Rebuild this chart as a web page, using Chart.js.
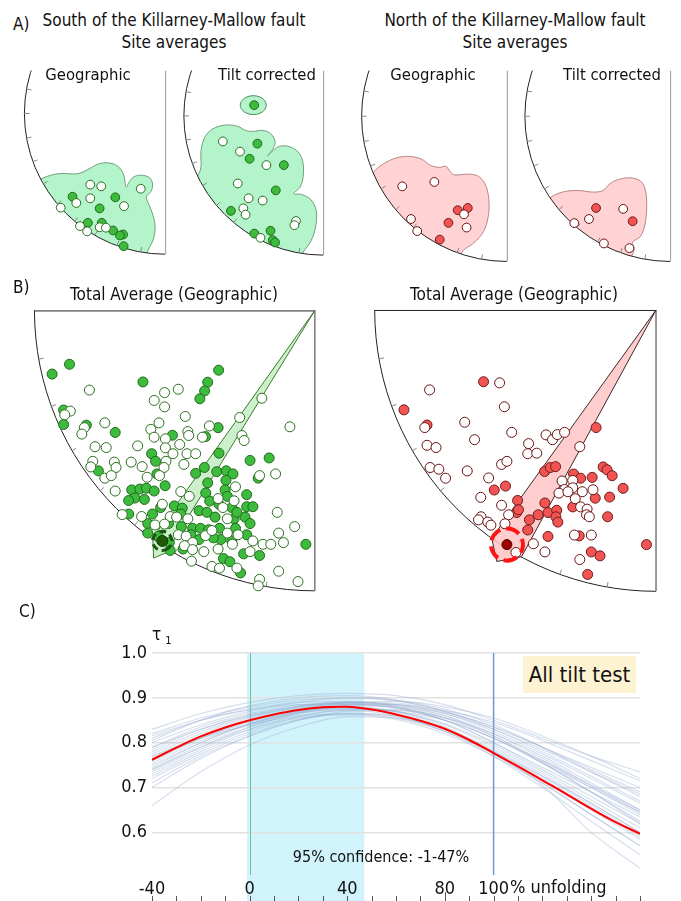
<!DOCTYPE html>
<html>
<head>
<meta charset="utf-8">
<script src="https://cdn.jsdelivr.net/npm/chart.js@4.4.1/dist/chart.umd.min.js"></script>
<style>
  body { margin: 0; background: #fff; }
  #page { position: relative; width: 681px; height: 901px; overflow: hidden; background: #fff;
          font-family: 'DejaVu Sans Condensed', 'DejaVu Sans', sans-serif; color: #111; }
  canvas { position: absolute; }
  .t { position: absolute; line-height: 1; white-space: nowrap; z-index: 5; }
  .c { transform: translateX(-50%); }
</style>
</head>
<body>
<div id="page">
  <div class="t" style="left:13px;top:16px;font-size:17px">A)</div>
  <div class="t c" style="left:174px;top:12px;font-size:17px">South of the Killarney-Mallow fault</div>
  <div class="t c" style="left:174px;top:34px;font-size:17px">Site averages</div>
  <div class="t c" style="left:515px;top:12px;font-size:17px">North of the Killarney-Mallow fault</div>
  <div class="t c" style="left:515px;top:34px;font-size:17px">Site averages</div>
  <div class="t c" style="left:88px;top:67px;font-size:16.5px">Geographic</div>
  <div class="t c" style="left:267px;top:67px;font-size:16.5px">Tilt corrected</div>
  <div class="t c" style="left:433px;top:67px;font-size:16.5px">Geographic</div>
  <div class="t c" style="left:612px;top:67px;font-size:16.5px">Tilt corrected</div>

  <div class="t" style="left:13px;top:279px;font-size:17px">B)</div>
  <div class="t c" style="left:174px;top:286px;font-size:17px">Total Average (Geographic)</div>
  <div class="t c" style="left:514px;top:286px;font-size:17px">Total Average (Geographic)</div>

  <div class="t" style="left:19px;top:603px;font-size:17px">C)</div>
  <div class="t" style="left:152px;top:626px;font-size:17px">τ<span style="font-size:11px;position:relative;top:4px;left:4px">1</span></div>
  <div class="t" style="left:523px;top:656px;width:113px;height:37px;background:#fdf3d3;font-size:22px;line-height:37px;text-align:center">All tilt test</div>
  <div class="t c" style="left:381px;top:849px;font-size:16px">95% confidence: -1-47%</div>
  <div class="t" style="left:510px;top:878px;font-size:18px">% unfolding</div>
</div>

<script>
// ---------- A) site averages (net radius = 100, origin at net centre) ----------
const southGeoFilled = [[-65.8,-58.4],[-35.4,-58.8],[-46.5,-66.6],[-54.9,-76.7],[-45,-76.7],[-37,-82.1],[-29.9,-84.9],[-32.1,-85.6],[-29.5,-93.1]];
const southGeoOpen = [[-53.2,-49.9],[-45.4,-51.1],[-17.3,-52.8],[-53.2,-59.5],[-63.1,-62.8],[-29.2,-65],[-74.2,-66.1],[-60.5,-79],[-55.4,-82.7],[-46.5,-79.8],[-42.1,-80.1]];
const southGeoRegion = [[-95.2,-50.6],[-86.4,-45.1],[-75.3,-42.2],[-62,-42.2],[-53.2,-38.4],[-46.5,-35.1],[-37.7,-35.1],[-32.1,-38.4],[-29.2,-44],[-27.7,-51.7],[-25.5,-48],[-22.1,-44.4],[-16.6,-43.3],[-11.1,-45.1],[-8.9,-49.5],[-10,-54.6],[-13.3,-58.4],[-11.5,-63.9],[-8.9,-70.5],[-7.1,-79.4],[-8.4,-88.3],[-12.2,-96],[-15.5,-103.7],[-95.2,-103.7],[-95.2,-50.6]];

const southTiltFilled = [[-49.5,7.6],[-47.2,-19.7],[-52.8,-30.4],[-28.2,-34.9],[-34,-52.8],[-66.2,-67.3],[-37.8,-81.4],[-49.4,-83.4],[-36.2,-88.1],[-34.5,-89.7]];
const southTiltOpen = [[-72,-18.1],[-59.7,-25.3],[-40.7,-34.9],[-61.3,-47.9],[-53.5,-58.4],[-43.4,-60],[-57.3,-65.5],[-55.7,-70],[-19.5,-74.5],[-20.6,-77.4],[-45,-86.4]];
const southTiltRegion = [[-94.9,-49.4],[-88.1,-38.3],[-87.7,-24.8],[-84.8,-14.8],[-79.2,-9.2],[-70.2,-6.5],[-61.3,-7.4],[-55.7,-10.3],[-50.1,-11],[-43.4,-10.3],[-37.8,-12.5],[-34.5,-18.1],[-36.2,-23.7],[-40,-28.2],[-32.2,-21.9],[-25.5,-21.5],[-18.8,-24.8],[-14.8,-31.5],[-14.3,-42.7],[-16.6,-50.6],[-21,-55],[-15.4,-55.7],[-8.7,-59.5],[-4.9,-67.3],[-5.4,-78.5],[-8.7,-88.6],[-14.3,-96.4],[-18.8,-103.1],[-94.9,-103.1],[-94.9,-49.4]];
const southTiltUpper = [[-40.7,7.6],[-42,10.9],[-45.4,13.4],[-50.1,14.3],[-54.8,13.4],[-58.2,10.9],[-59.5,7.6],[-58.2,4.3],[-54.8,1.8],[-50.1,0.9],[-45.4,1.8],[-42,4.3],[-40.7,7.6]];

const northGeoFilled = [[-33.8,-63.9],[-26.9,-62.4],[-40.2,-72.5],[-46.2,-83.9]];
const northGeoOpen = [[-72,-47.7],[-49.9,-44.7],[-29.5,-66.7],[-66,-69.9],[-61.7,-78.1],[-27.7,-75.7]];
const northGeoRegion = [[-97.8,-47.3],[-91.4,-37.6],[-84.9,-32.3],[-76.3,-28.4],[-67.7,-27.3],[-59.1,-29],[-52.7,-33.3],[-46.2,-34.8],[-41.9,-34],[-39.8,-36.6],[-36.6,-39.8],[-26.9,-39.4],[-19.4,-40.9],[-14.4,-47.3],[-12.3,-58.1],[-12.9,-68.8],[-16.1,-78.5],[-22.6,-86],[-30.1,-91.4],[-35.5,-100],[-97.8,-100],[-97.8,-47.3]];

const northTiltFilled = [[-51,-62.4],[-25.8,-71.4]];
const northTiltOpen = [[-32.3,-63],[-55.9,-69.9],[-66,-72.7],[-45.6,-86.5],[-28,-89.7]];
const northTiltRegion = [[-87.1,-60.2],[-82.8,-55.5],[-74.2,-51.6],[-63.4,-50.5],[-52.7,-51.6],[-46.2,-50.5],[-41.9,-46.2],[-35.5,-43],[-26.9,-41.9],[-20.4,-44.1],[-17.2,-49.5],[-16.1,-60.2],[-17.2,-73.1],[-20.4,-81.7],[-25.8,-85.6],[-24.7,-90.3],[-26.9,-95.7],[-31.2,-100],[-87.1,-100],[-87.1,-60.2]];

// ---------- B) all specimens ----------
const southAllFilled = [[-93.7,-22.7],[-87.5,-19.2],[-61.3,-25.5],[-34.3,-21.3],[-38.2,-25.6],[-39.3,-28.7],[-41,-31.5],[-89.6,-35.5],[-89.6,-40.7],[-81.5,-40.9],[-71.2,-43.5],[-50.8,-44.5],[-39,-45],[-34.5,-41.8],[-58.2,-51.1],[-56.8,-53.8],[-34.2,-50.9],[-23.1,-53.5],[-16.3,-52.6],[-77.2,-57.2],[-56.3,-58.3],[-42.5,-58.1],[-39.4,-56],[-35,-57.5],[-31.6,-57.2],[-29.2,-58.3],[-20.2,-59.8],[-65.3,-64],[-62.4,-63.7],[-60.1,-63.4],[-57.3,-64.4],[-53.4,-62.5],[-64.2,-66.9],[-60.8,-67.4],[-66.4,-67.8],[-38.2,-61.5],[-31.7,-60.6],[-38.9,-65.1],[-32,-64],[-31.2,-66.3],[-24.3,-65.7],[-37.5,-68],[-34.2,-69.1],[-29.6,-70.3],[-24.3,-70],[-22.1,-70],[-55,-70.3],[-50.1,-69.7],[-47.3,-70.5],[-57.9,-72.6],[-66.4,-72.6],[-41.3,-71.4],[-38.5,-72],[-35.6,-73.7],[-28.8,-74.3],[-24.9,-73.7],[-59.6,-76],[-52.2,-76],[-47.6,-77.1],[-43.6,-77.7],[-40.8,-77.7],[-37.9,-78.2],[-34,-77.7],[-28.3,-77.7],[-24.3,-80],[-44.2,-80],[-41.3,-81.7],[-33.5,-81.7],[-29.6,-82.2],[-59.6,-79.4],[-55.9,-80.5],[-51.9,-82.8],[-51.6,-85.6],[-47,-85.1],[-32.6,-88.5],[-30.3,-89.6],[-25.4,-86.8],[-19.7,-87.4],[-26.5,-93.6],[-3.2,-83.4],[-36.2,-81.1],[-27.8,-72],[-23.1,-76],[-47.8,-72.6]];
const southAllOpen = [[-80.4,-28.4],[-53.6,-29.3],[-48.7,-28.1],[-57.3,-32.1],[-53.6,-34.4],[-87.2,-35.9],[-89.2,-37.2],[-46.2,-37.8],[-26.8,-38.2],[-18.9,-31.3],[-8.9,-41.5],[-74.9,-40.1],[-82.2,-41.8],[-83.1,-44.1],[-55.6,-40.1],[-58.5,-42.4],[-57.3,-45.2],[-53.3,-45.8],[-45.3,-43.2],[-45,-44.6],[-37.6,-41.2],[-40.1,-45.2],[-26,-44.6],[-25.2,-46.4],[-78.4,-48.6],[-74.4,-48.9],[-63.2,-48.3],[-48.2,-47.8],[-53.3,-49],[-50.6,-51.1],[-45.6,-51.1],[-42.5,-51.1],[-79.2,-53.8],[-79.9,-55.8],[-71.5,-54.1],[-70.9,-56],[-65.5,-54.1],[-61.6,-55.7],[-53.1,-53.8],[-53.8,-56],[-46.7,-54.9],[-55.4,-58.9],[-59.8,-59.5],[-74.9,-59.8],[-72.6,-58.9],[-19.7,-58.9],[-14,-58.3],[-71.2,-64.4],[-47.8,-64.6],[-44.8,-66.3],[-28.3,-62.9],[-34.5,-67.1],[-28.8,-67.9],[-68.7,-72.8],[-61.8,-73.5],[-54.4,-69.1],[-51.6,-73.5],[-49.3,-73.7],[-45.3,-74.3],[-32.8,-70.3],[-31.2,-74.3],[-13.4,-72],[-57,-76.5],[-53.6,-76.2],[-48.7,-80],[-45.9,-80.5],[-43.6,-82.8],[-39,-80.3],[-36.7,-78.5],[-31.2,-79.4],[-27.4,-80],[-22.1,-82.2],[-18.5,-83.4],[-15.7,-83.4],[-11.2,-82.8],[-12.9,-79.4],[-7.2,-77.1],[-46.5,-83.9],[-43.6,-85.3],[-39.6,-86],[-34.5,-85.1],[-23.1,-86],[-44,-89.4],[-36.7,-91.3],[-34,-91.9],[-27.8,-91.9],[-19.7,-95.9],[-20.2,-98.2],[-12.9,-93],[-6,-96.7],[-29.4,-83.4]];
const southAllWedge = [[0,0],[-57.8,-81.1],[-57.5,-88.3],[-53,-86.4],[0,0]];
const southAllMean = [[-54.4,-82.2]];
const southAllA95 = 3.4;

const northAllFilled = [[-61.3,-25.5],[-89.6,-35.5],[-81.4,-40.9],[-21.3,-41.8],[-39.6,-57.4],[-37.6,-56],[-35.7,-55.7],[-29.3,-58.3],[-26.8,-59.8],[-22.7,-59.5],[-18.8,-55.8],[-17.4,-56.8],[-15.6,-58.9],[-11.7,-63.4],[-16.5,-66.5],[-21.6,-66.9],[-57.5,-64],[-53.5,-62.6],[-49.2,-67.7],[-49.5,-72],[-48.9,-71],[-45,-74.6],[-41.9,-72.8],[-39.5,-68.6],[-38.4,-72],[-35.3,-71.2],[-35.6,-73.5],[-34.9,-75.4],[-29.6,-70],[-17.2,-73.5],[-45.6,-78.2],[-38.4,-80.5],[-27.3,-80.3],[-23,-86],[-19.9,-87.4],[-24.3,-94],[-3.4,-83.4]];
const northAllOpen = [[-55.6,-25.9],[-80.5,-28.4],[-53.9,-34.4],[-68,-39.9],[-82.2,-41.8],[-51.3,-43.5],[-64.5,-46.1],[-81.4,-48.1],[-78.2,-48.9],[-39.1,-44.4],[-36.8,-46.1],[-35.1,-44.3],[-32.5,-43.5],[-45.3,-47.5],[-45.6,-51.1],[-42.4,-50.9],[-27.1,-48.6],[-80.3,-56],[-77.2,-56.6],[-74.8,-59.8],[-67.1,-57.2],[-54.9,-54.9],[-53,-53.8],[-59.5,-59.7],[-33.4,-60.8],[-29.6,-60.6],[-32.5,-63.8],[-29.6,-63.2],[-26.2,-64.6],[-22.4,-63.9],[-34.5,-65.1],[-31.3,-64.6],[-28.7,-67.1],[-26.8,-70],[-24.5,-70.8],[-24.7,-72.8],[-23.7,-73.5],[-62.3,-66.6],[-54.9,-69.4],[-52.4,-72.8],[-62.2,-73.5],[-63.1,-74.6],[-59.8,-75.4],[-58.7,-76.5],[-53.7,-76],[-29,-80],[-23,-80],[-43.6,-83.1],[-49.8,-86.2],[-39.5,-86],[-27.1,-88.7]];
const northAllWedge = [[0,0],[-58.4,-81.1],[-56.6,-89.4],[-47.8,-87.7],[0,0]];
const northAllMean = [[-53,-83.4]];
const northAllA95 = 5.7;

// ---------- C) tilt test ----------
const unfolding = [-40,-20,0,20,40,60,80,100,120,140,160];
const unfoldingFine = [-40,-30,-20,-10,0,10,20,30,40,50,60,70,80,90,100,110,120,130,140,150,160];
const tauMean = [0.762,0.789,0.814,0.834,0.850,0.863,0.873,0.879,0.880,0.874,0.863,0.849,0.831,0.806,0.777,0.747,0.716,0.685,0.653,0.623,0.597];
const tauBootstrap = [
  [0.83,0.865,0.89,0.905,0.91,0.905,0.885,0.85,0.81,0.77,0.735],
  [0.82,0.855,0.88,0.895,0.90,0.893,0.87,0.835,0.79,0.745,0.70],
  [0.80,0.84,0.87,0.89,0.90,0.895,0.875,0.84,0.79,0.735,0.68],
  [0.79,0.83,0.86,0.88,0.89,0.885,0.865,0.825,0.775,0.72,0.665],
  [0.78,0.825,0.858,0.88,0.888,0.88,0.855,0.81,0.755,0.70,0.645],
  [0.77,0.815,0.85,0.875,0.885,0.878,0.85,0.80,0.74,0.68,0.62],
  [0.76,0.81,0.848,0.872,0.88,0.87,0.84,0.79,0.73,0.665,0.60],
  [0.75,0.80,0.84,0.868,0.878,0.868,0.835,0.78,0.715,0.65,0.585],
  [0.74,0.795,0.835,0.865,0.876,0.865,0.83,0.775,0.71,0.64,0.57],
  [0.73,0.785,0.83,0.86,0.872,0.86,0.825,0.77,0.70,0.625,0.55],
  [0.72,0.775,0.82,0.852,0.866,0.858,0.826,0.775,0.71,0.64,0.57],
  [0.71,0.77,0.815,0.85,0.865,0.86,0.83,0.78,0.72,0.655,0.59],
  [0.66,0.735,0.795,0.835,0.858,0.855,0.83,0.785,0.725,0.66,0.595],
  [0.805,0.85,0.882,0.90,0.905,0.895,0.87,0.83,0.78,0.725,0.67],
  [0.81,0.85,0.875,0.89,0.892,0.88,0.85,0.80,0.745,0.69,0.635],
  [0.785,0.83,0.862,0.882,0.89,0.888,0.872,0.845,0.805,0.76,0.715],
  [0.775,0.82,0.855,0.878,0.89,0.892,0.88,0.855,0.815,0.77,0.72],
  [0.765,0.812,0.85,0.875,0.887,0.885,0.865,0.83,0.785,0.735,0.685],
  [0.745,0.80,0.842,0.87,0.885,0.885,0.868,0.835,0.79,0.74,0.69],
  [0.735,0.79,0.835,0.866,0.882,0.88,0.86,0.82,0.765,0.705,0.645],
  [0.70,0.765,0.815,0.85,0.87,0.872,0.855,0.82,0.77,0.71,0.65],
  [0.755,0.805,0.842,0.866,0.875,0.87,0.85,0.81,0.755,0.69,0.625],
  [0.725,0.78,0.825,0.857,0.873,0.874,0.856,0.815,0.755,0.69,0.62],
  [0.79,0.835,0.865,0.884,0.89,0.883,0.86,0.815,0.76,0.70,0.64],
  [0.815,0.85,0.873,0.885,0.886,0.876,0.85,0.81,0.76,0.705,0.65],
  [0.76,0.81,0.845,0.87,0.878,0.87,0.842,0.795,0.735,0.672,0.61],
  [0.74,0.79,0.83,0.855,0.862,0.852,0.82,0.77,0.705,0.60,0.52],
  [0.77,0.81,0.84,0.86,0.864,0.855,0.825,0.78,0.725,0.665,0.60]
];
const confidenceRange = [-1, 47];
const xTickValues = [-40, 0, 40, 80, 100];
const yTickValues = [0.6, 0.7, 0.8, 0.9, 1.0];

// ---------- helpers ----------
const FONT = "'DejaVu Sans Condensed', 'DejaVu Sans', sans-serif";
const toXY = arr => arr.map(p => ({ x: p[0], y: p[1] }));
const page = document.getElementById('page');

function netGeom(chart) {
  const xs = chart.scales.x, ys = chart.scales.y;
  const cx = xs.getPixelForValue(0), cy = ys.getPixelForValue(0);
  return { cx, cy, r: cx - xs.getPixelForValue(-100) };
}

function drawFrame(chart, o) {
  const ctx = chart.ctx, { cx, cy, r } = netGeom(chart), a = chart.chartArea;
  ctx.save();
  ctx.beginPath(); ctx.rect(a.left, a.top, a.right - a.left, a.bottom - a.top); ctx.clip();
  ctx.lineWidth = 1; ctx.strokeStyle = '#222';
  ctx.beginPath();
  if (o.kind === 'B') ctx.arc(cx, cy, r, Math.PI / 2, Math.PI);
  else ctx.arc(cx, cy, r, Math.PI / 2, Math.PI * 1.5);
  ctx.stroke();
  if (o.kind === 'B') {
    ctx.beginPath(); ctx.moveTo(cx - r, cy + 0.5); ctx.lineTo(cx, cy + 0.5); ctx.stroke();
    ctx.strokeStyle = '#7a7a7a'; ctx.lineWidth = 1.5;
    ctx.beginPath(); ctx.moveTo(cx, cy); ctx.lineTo(cx, cy + r); ctx.stroke();
  } else {
    ctx.strokeStyle = '#9a9a9a';
    ctx.beginPath(); ctx.moveTo(cx + 0.5, a.top); ctx.lineTo(cx + 0.5, cy + r); ctx.stroke();
  }
  ctx.strokeStyle = '#888'; ctx.lineWidth = 1;
  for (let d = (o.kind === 'B' ? 10 : -10); d <= 80; d += 10) {
    const t = d * Math.PI / 180, c = Math.cos(t), s = Math.sin(t);
    ctx.beginPath();
    ctx.moveTo(cx - r * c, cy + r * s);
    ctx.lineTo(cx - (r - 5) * c, cy + (r - 5) * s);
    ctx.stroke();
  }
  ctx.restore();
}

const netFrame = {
  id: 'netFrame',
  beforeDatasetsDraw(chart, args, o) {
    chart.$netClipped = false;
    if (o.clip) {
      const { cx, cy, r } = netGeom(chart);
      chart.ctx.save();
      chart.ctx.beginPath(); chart.ctx.arc(cx, cy, r, 0, Math.PI * 2); chart.ctx.clip();
      chart.$netClipped = true;
    } else drawFrame(chart, o);
  },
  beforeDatasetDraw(chart, args, o) {
    if (chart.$netClipped && !chart.data.datasets[args.index].region) {
      chart.ctx.restore(); chart.$netClipped = false; drawFrame(chart, o);
    }
  },
  afterDatasetsDraw(chart, args, o) {
    if (chart.$netClipped) { chart.ctx.restore(); chart.$netClipped = false; drawFrame(chart, o); }
    (o.rings || []).forEach(ring => {
      const ctx = chart.ctx, xs = chart.scales.x, ys = chart.scales.y;
      const px = xs.getPixelForValue(ring.at[0]), py = ys.getPixelForValue(ring.at[1]);
      const rr = xs.getPixelForValue(ring.at[0] + ring.radius) - px;
      ctx.save();
      ctx.strokeStyle = ring.color; ctx.lineWidth = ring.width; ctx.setLineDash(ring.dash);
      ctx.beginPath(); ctx.arc(px, py, rr, 0.9, 0.9 + Math.PI * 2); ctx.stroke();
      ctx.restore();
    });
  }
};

function regionSet(pts, fill, border) {
  return { data: toXY(pts), region: true, showLine: true, fill: 'shape', backgroundColor: fill,
           borderColor: border, borderWidth: 1, pointRadius: 0, tension: 0.35, order: 3, clip: false };
}
function pointSet(pts, fill, border, radius) {
  return { data: toXY(pts), showLine: false, pointRadius: radius, pointBorderWidth: 1,
           pointBackgroundColor: fill, pointBorderColor: border, backgroundColor: fill, borderColor: border,
           order: 1, clip: false };
}

function makeNet(p) {
  const m = 8;
  const left = Math.round(p.cx - p.r - m), top = Math.round(p.top);
  const w = Math.round(p.cx + m) - left, h = Math.round(p.cy + p.r + m) - top;
  const c = document.createElement('canvas');
  c.width = w; c.height = h;
  c.style.left = left + 'px'; c.style.top = top + 'px';
  c.style.width = w + 'px'; c.style.height = h + 'px';
  page.appendChild(c);
  const u = v => v / p.r * 100;
  new Chart(c, {
    type: 'scatter',
    data: { datasets: p.datasets },
    options: {
      responsive: false, animation: false, devicePixelRatio: 1,
      layout: { padding: 0 },
      plugins: { legend: { display: false }, tooltip: { enabled: false },
                 netFrame: { kind: p.kind, clip: p.clip, rings: p.rings || [] } },
      scales: {
        x: { type: 'linear', display: false, min: u(left - p.cx), max: u(left + w - p.cx) },
        y: { type: 'linear', display: false, min: u(p.cy - (top + h)), max: u(p.cy - top) }
      }
    },
    plugins: [netFrame]
  });
}

const MINT = '#b4f4ca', MINT_EDGE = '#6f9f7c';
const PINK = '#ffd3d3', PINK_EDGE = '#b98585';
const G_FILL = '#3dbb3d', G_EDGE = '#1f6a1a', G_OPEN_EDGE = '#2b6e1f';
const R_FILL = '#f25454', R_EDGE = '#6e1a1a', R_OPEN_EDGE = '#6a1212';

makeNet({ cx: 170, cy: 110.5, r: 150.5, top: 65, kind: 'A', clip: true, datasets: [
  regionSet(southGeoRegion, MINT, MINT_EDGE),
  pointSet(southGeoOpen, '#fff', G_OPEN_EDGE, 4.4),
  pointSet(southGeoFilled, G_FILL, G_EDGE, 4.4) ] });
makeNet({ cx: 328, cy: 113, r: 149, top: 65, kind: 'A', clip: true, datasets: [
  regionSet(southTiltRegion, MINT, MINT_EDGE),
  regionSet(southTiltUpper, MINT, '#4d8a5c'),
  pointSet(southTiltOpen, '#fff', G_OPEN_EDGE, 4.4),
  pointSet(southTiltFilled, G_FILL, G_EDGE, 4.4) ] });
makeNet({ cx: 511.7, cy: 113.3, r: 155, top: 65, kind: 'A', clip: true, datasets: [
  regionSet(northGeoRegion, PINK, PINK_EDGE),
  pointSet(northGeoOpen, '#fff', R_OPEN_EDGE, 4.4),
  pointSet(northGeoFilled, R_FILL, R_EDGE, 4.4) ] });
makeNet({ cx: 675, cy: 113.3, r: 155, top: 65, kind: 'A', clip: true, datasets: [
  regionSet(northTiltRegion, PINK, PINK_EDGE),
  pointSet(northTiltOpen, '#fff', R_OPEN_EDGE, 4.4),
  pointSet(northTiltFilled, R_FILL, R_EDGE, 4.4) ] });

const wedgeSet = (pts, fill, edge) => Object.assign(regionSet(pts, fill, edge), { region: false, tension: 0, order: 4 });
makeNet({ cx: 321, cy: 304.3, r: 292.7, top: 296, kind: 'B', clip: false,
  rings: [{ at: southAllMean[0], radius: southAllA95, color: '#1d5510', width: 3, dash: [7, 4] }],
  datasets: [
    wedgeSet(southAllWedge, 'rgba(185,235,185,0.75)', '#3d7a2d'),
    pointSet(southAllOpen, '#fff', G_OPEN_EDGE, 5),
    pointSet(southAllFilled, G_FILL, G_EDGE, 5),
    Object.assign(pointSet(southAllMean, '#1e5a08', '#143d05', 5.5), { order: 0 }) ] });
makeNet({ cx: 661.7, cy: 304.3, r: 292.7, top: 296, kind: 'B', clip: false,
  rings: [{ at: northAllMean[0], radius: northAllA95, color: '#ff1414', width: 4, dash: [14, 6] }],
  datasets: [
    wedgeSet(northAllWedge, 'rgba(255,196,196,0.85)', '#3a2a2a'),
    pointSet(northAllOpen, '#fff', R_OPEN_EDGE, 5),
    pointSet(northAllFilled, R_FILL, R_EDGE, 5),
    Object.assign(pointSet(northAllMean, '#a00000', '#4a0000', 5), { order: 0 }) ] });

// ---------- C chart ----------
const tiltDecor = {
  id: 'tiltDecor',
  beforeDraw(chart) {
    const ctx = chart.ctx, xs = chart.scales.x, a = chart.chartArea;
    const x0 = xs.getPixelForValue(confidenceRange[0]), x1 = xs.getPixelForValue(confidenceRange[1]);
    ctx.save();
    ctx.fillStyle = '#d1f3fb';
    ctx.fillRect(x0, a.top, x1 - x0, chart.height - a.top);
    ctx.restore();
  },
  beforeDatasetsDraw(chart) {
    const ctx = chart.ctx, xs = chart.scales.x, a = chart.chartArea;
    ctx.save();
    ctx.lineWidth = 1;
    ctx.strokeStyle = '#72bf92';
    let px = Math.round(xs.getPixelForValue(0)) + 0.5;
    ctx.beginPath(); ctx.moveTo(px, a.top); ctx.lineTo(px, a.bottom); ctx.stroke();
    ctx.strokeStyle = '#6f98cc'; ctx.lineWidth = 1.5;
    px = xs.getPixelForValue(100);
    ctx.beginPath(); ctx.moveTo(px, a.top); ctx.lineTo(px, a.bottom); ctx.stroke();
    ctx.restore();
  },
  afterDraw(chart) {
    const ctx = chart.ctx, xs = chart.scales.x;
    ctx.save();
    ctx.strokeStyle = '#555'; ctx.lineWidth = 1;
    for (let v = xs.min; v <= xs.max; v += 10) {
      const px = Math.round(xs.getPixelForValue(v)) + 0.5;
      ctx.beginPath(); ctx.moveTo(px, chart.height - (v === 80 ? 9 : 5)); ctx.lineTo(px, chart.height); ctx.stroke();
    }
    ctx.restore();
  }
};

const cc = document.createElement('canvas');
cc.width = 681; cc.height = 301;
cc.style.left = '0px'; cc.style.top = '600px'; cc.style.width = '681px'; cc.style.height = '301px';
page.appendChild(cc);

const curveSets = tauBootstrap.map(vals => ({
  data: unfolding.map((x, i) => ({ x, y: vals[i] })),
  borderColor: 'rgba(150,172,208,0.38)', borderWidth: 1.2, pointRadius: 0,
  cubicInterpolationMode: 'monotone', order: 2
}));
curveSets.push({
  data: unfoldingFine.map((x, i) => ({ x, y: tauMean[i] })),
  borderColor: '#ff0000', borderWidth: 2, pointRadius: 0,
  tension: 0.4, order: 0
});

new Chart(cc, {
  type: 'line',
  data: { datasets: curveSets },
  options: {
    responsive: false, animation: false, devicePixelRatio: 1,
    layout: { padding: { top: 53, right: 41, left: 0, bottom: 0 } },
    plugins: { legend: { display: false }, tooltip: { enabled: false } },
    scales: {
      x: {
        type: 'linear', min: -40, max: 160,
        afterBuildTicks: s => { s.ticks = xTickValues.map(v => ({ value: v })); },
        afterFit: s => { s.height = 26; },
        grid: { display: false }, border: { display: false },
        ticks: { font: { family: FONT, size: 18 }, color: '#111', padding: -4, maxRotation: 0, autoSkip: false,
                 callback: v => String(v) }
      },
      y: {
        type: 'linear', min: 0.505, max: 1.0,
        afterBuildTicks: s => { s.ticks = yTickValues.map(v => ({ value: v })); },
        afterFit: s => { s.width = 152; },
        grid: { color: '#e2e2e2', lineWidth: 1.5, drawTicks: false }, border: { display: false },
        ticks: { font: { family: FONT, size: 18 }, color: '#111', padding: 5, callback: v => v.toFixed(1) }
      }
    }
  },
  plugins: [tiltDecor]
});
</script>
</body>
</html>
